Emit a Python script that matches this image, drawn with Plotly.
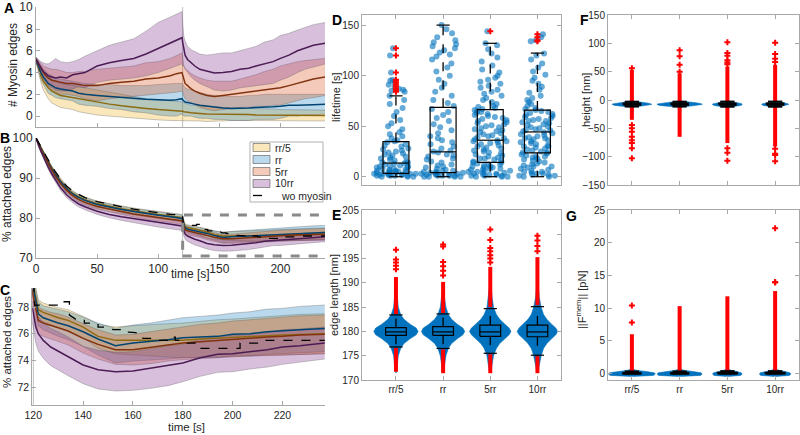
import plotly.graph_objects as go

# ---------------------------------------------------------------- data
SERIES = ['rr/5', 'rr', '5rr', '10rr']

T = [0, 1, 2, 4, 6, 8, 10, 13, 16, 20, 25, 30, 35, 40, 50, 60, 70, 80, 90, 100, 110,
     115, 119.5, 120, 121, 122, 124, 127, 130, 134, 140, 146, 153, 160, 167, 174, 180,
     187, 194, 200, 207, 214, 220, 227, 237]

# panel A: number of myosin edges (mean, upper, lower of band)
A_RR5_MEAN = [5.2,4.8,4.3,3.7,3.2,2.9,2.6, 2.3,2.1,1.9,1.8,1.7,1.55,1.45, 1.3,1.1,0.95,0.8,0.7,0.6,0.55,
              0.5,0.45,0.45,0.4,0.4,0.35,0.3, 0.3,0.25,0.2,0.2,0.2,0.2,0.15, 0.15,0.1,0.1,0.1,0.1,0.05,0.05,
              0.05,0.05,0.05]
A_RR5_UP = [5.4,5.1,4.8,4.3,4.0,3.8,3.6, 3.4,3.2,3.0,2.9,2.8,2.7,2.6, 2.4,2.2,2.0,1.8,1.6,1.5,1.4,
            1.35,1.3,1.3,1.2,1.2,1.1,1.0, 1.0,0.95,0.9,0.85,0.8,0.8,0.75, 0.7,0.7,0.65,0.65,0.6,0.6,0.6,
            0.55,0.55,0.55]
A_RR5_LO = [5.0,4.5,3.8,3.1,2.4,2.0,1.6, 1.2,1.0,0.8,0.7,0.6,0.4,0.3, 0.1,0.0,-0.1,-0.2,-0.3,-0.35,-0.4,
            -0.4,-0.4,-0.4,-0.4,-0.4,-0.4,-0.4, -0.4,-0.45,-0.5,-0.45,-0.45,-0.4,-0.4, -0.4,-0.4,-0.4,-0.4,-0.4,-0.45,-0.45,
            -0.45,-0.45,-0.45]
A_RR_MEAN = [5.2,4.9,4.5,4.0,3.6,3.3,3.0, 2.8,2.6,2.5,2.4,2.3,2.1,2.0, 1.9,1.8,1.7,1.6,1.55,1.5,1.45,
             1.5,1.6,1.5,1.35,1.3,1.25,1.2, 1.1,1.0,0.9,0.8,0.75,0.7,0.7, 0.75,0.8,0.8,0.85,0.9,1.0,1.0,
             1.05,1.05,1.1]
A_RR_UP = [5.4,5.2,4.9,4.6,4.3,4.1,3.9, 3.7,3.5,3.4,3.3,3.2,3.1,3.0, 2.9,2.9,2.8,2.8,2.8,2.9,3.0,
           3.0,3.0,2.9,2.7,2.6,2.5,2.4, 2.3,2.2,2.0,1.9,1.8,1.8,1.8, 1.9,1.9,2.0,2.0,2.0,2.0,2.0,
           2.0,2.0,2.0]
A_RR_LO = [5.0,4.6,4.1,3.4,2.9,2.5,2.1, 1.9,1.7,1.6,1.5,1.4,1.1,1.0, 0.9,0.7,0.6,0.4,0.3,0.1,0.0,
           0.0,0.2,0.1,0.0,0.0,0.0,0.0, -0.1,-0.2,-0.2,-0.3,-0.3,-0.4,-0.4, -0.4,-0.3,-0.3,-0.3,-0.2,0.0,0.0,
           0.1,0.1,0.2]
A_5RR_MEAN = [5.2,5.0,4.7,4.3,4.0,3.7,3.5, 3.3,3.2,3.1,3.0,3.0,2.9,2.8, 2.8,3.0,3.1,3.2,3.4,3.5,3.7,
              3.9,4.0,3.8,3.2,3.0,2.8,2.5, 2.3,2.1,1.9,1.8,1.9,2.0,2.1, 2.2,2.3,2.4,2.5,2.6,2.8,3.0,
              3.2,3.4,3.6]
A_5RR_UP = [5.4,5.3,5.1,4.8,4.6,4.5,4.4, 4.3,4.3,4.2,4.0,4.0,4.1,4.1, 4.3,4.4,4.5,4.6,4.9,5.0,5.3,
            5.6,5.8,5.4,4.6,4.4,4.2,3.9, 3.7,3.5,3.3,3.2,3.2,3.2,3.4, 3.6,3.8,4.1,4.3,4.6,4.8,5.0,
            5.1,5.2,5.3]
A_5RR_LO = [5.0,4.7,4.3,3.8,3.4,3.0,2.7, 2.4,2.2,2.0,2.0,1.9,1.8,1.6, 1.4,1.6,1.7,1.8,1.9,2.0,2.1,
            2.2,2.3,2.2,1.8,1.6,1.4,1.2, 1.0,0.8,0.6,0.5,0.6,0.7,0.8, 0.8,0.9,0.9,1.0,1.0,1.2,1.4,
            1.6,1.7,1.9]
A_10RR_MEAN = [5.2,5.0,4.8,4.4,4.1,3.9,3.7, 3.6,3.5,3.6,3.5,3.8,3.9,4.0, 4.6,4.9,5.1,5.3,5.7,6.2,6.7,
               6.9,7.2,6.8,6.0,5.6,5.2,4.9, 4.6,4.3,4.1,3.95,4.0,4.1,4.3, 4.4,4.6,4.8,5.0,5.3,5.6,6.0,
               6.2,6.5,6.7]
A_10RR_UP = [5.4,5.3,5.2,5.0,4.9,4.8,4.8, 5.0,5.3,5.0,4.9,5.0,5.2,5.5, 6.0,6.5,6.8,7.1,7.8,8.6,9.1,
             9.4,9.6,8.5,7.3,6.9,6.4,6.1, 5.9,5.7,5.6,5.7,5.8,5.8,6.0, 6.2,6.4,6.8,7.0,7.4,7.6,7.9,
             8.1,8.4,8.6]
A_10RR_LO = [5.0,4.7,4.4,3.8,3.4,3.1,2.8, 2.6,2.4,2.3,2.3,2.5,2.7,2.6, 3.1,3.3,3.4,3.5,3.7,4.0,4.4,
             4.6,4.8,4.6,4.6,4.3,4.0,3.6, 3.3,3.0,2.7,2.4,2.3,2.4,2.6, 2.7,2.8,2.9,3.0,3.3,3.6,4.0,
             4.3,4.5,4.8]

# panels B and C: % attached edges (mean and standard deviation)
B_RR5 = [100,99.4,98.8,97.6,96.4,95.2,94.0, 92.5,91.0,89.3,87.5,86.2,85.3,84.6, 83.6,82.9,82.3,81.8,81.3,80.9,80.5,
         80.3,80.1,79.6,78.6,77.8,77.6,77.4, 77.2,77.0,76.5,75.8,75.5,75.5,75.5, 75.5,75.5,75.6,75.65,75.7,75.75,75.85,
         75.9,75.95,76.0]
B_RR = [100,99.3,98.7,97.4,96.2,95.0,93.8, 92.3,90.8,89.1,87.3,86.0,85.1,84.4, 83.4,82.7,82.1,81.6,81.1,80.7,80.3,
        80.1,79.9,79.4,78.3,77.5,77.2,77.0, 76.8,76.6,76.15,75.6,75.1,75.3,75.4, 75.55,75.7,75.75,75.8,75.95,76.0,76.15,
        76.2,76.3,76.4]
B_5RR = [100,99.2,98.5,97.2,95.9,94.7,93.5, 91.9,90.4,88.7,86.9,85.6,84.6,83.9, 82.9,82.2,81.6,81.0,80.5,80.1,79.7,
         79.5,79.3,78.8,77.8,77.0,76.8,76.6, 76.45,76.2,75.65,75.2,74.8,74.8,74.95, 75.15,75.3,75.4,75.5,75.6,75.7,75.75,
         75.8,75.9,75.95]
B_10RR = [100,99.0,98.2,96.7,95.3,94.0,92.7, 91.0,89.4,87.6,85.8,84.5,83.5,82.8, 81.7,80.9,80.3,79.8,79.3,78.8,78.4,
          78.2,78.0,77.6,76.5,76.0,75.5,75.0, 74.7,74.3,73.65,73.3,73.15,73.2,73.4, 73.6,73.8,74.2,74.45,74.5,74.65,74.8,
          75.0,75.1,75.3]
SD_RR5 = [0,0.1,0.2,0.3,0.35,0.4,0.45, 0.5,0.5,0.55,0.6,0.6,0.6,0.65, 0.65,0.7,0.7,0.7,0.75,0.75,0.8,
          0.8,0.8,0.8,0.8,0.75,0.7,0.7, 0.75,0.8,0.8,0.9,1.0,1.1,1.2, 1.25,1.3,1.35,1.4,1.4,1.45,1.45,
          1.5,1.5,1.5]
SD_RR = [0,0.1,0.2,0.3,0.35,0.4,0.45, 0.5,0.55,0.6,0.6,0.65,0.65,0.7, 0.7,0.7,0.75,0.75,0.8,0.8,0.8,
         0.85,0.85,0.85,0.9,0.9,0.9,0.95, 1.0,1.05,1.1,1.2,1.3,1.35,1.4, 1.45,1.5,1.55,1.6,1.6,1.65,1.7,
         1.7,1.75,1.75]
SD_5RR = [0,0.1,0.2,0.3,0.35,0.4,0.45, 0.5,0.55,0.6,0.6,0.65,0.65,0.7, 0.7,0.7,0.75,0.75,0.8,0.8,0.85,
          0.85,0.85,0.9,0.95,1.0,1.0,1.0, 1.05,1.05,1.1,1.1,1.1,1.15,1.2, 1.2,1.25,1.3,1.3,1.35,1.35,1.4,
          1.4,1.45,1.45]
SD_10RR = [0,0.1,0.2,0.3,0.4,0.45,0.5, 0.55,0.6,0.65,0.7,0.7,0.75,0.75, 0.8,0.85,0.9,1.0,1.0,1.05,1.1,
           1.1,1.1,1.15,1.2,1.3,1.35,1.4, 1.45,1.45,1.4,1.45,1.45,1.45,1.5, 1.5,1.4,1.4,1.35,1.35,1.3,1.3,
           1.3,1.25,1.2]

T_WO = [0,1,2,4,6,8,10,13,16,20,25,30,35,40,50,60,70,80,90,100,110,115,119.5,120.2,120.5,131.4,131.4,
        134.5,134.5,137,140.5,140.5,146,146,151,152,155.5,155.5,160,163.5,164,168.5,169,175.5,175.5,
        177,177,181,181.5,186.5,187,203,203,212,212.5,237]
V_WO = [100,99.5,99.0,97.9,96.8,95.6,94.5,93.0,91.5,89.8,88.0,86.7,85.8,85.1,84.1,83.4,82.8,82.2,81.7,81.3,
        80.9,80.8,81.0,80.0,78.15,78.15,78.4,78.4,77.4,77.1,77.1,76.8,76.8,76.5,76.5,76.3,76.3,76.15,76.1,
        76.0,75.65,75.65,75.5,75.5,75.75,75.75,75.5,75.5,75.3,75.3,74.9,74.9,75.3,75.3,75.5,75.5]
ZOOM_T = [120, 240]
ZOOM_V = [70.5, 80.75]

# panel D: lifetime [s]
D_RR5 = [0,0,0,1,1,1,1,2,2,2,2,2,3,3,3,3,4,4,4,5,5,5,6,6,6,7,7,8,8,9,9,10,10,11,11,12,13,13,14,14,15,16,
         17,18,19,20,21,22,23,24,25,26,27,28,30,31,32,34,35,36,38,40,42,44,47,50,53,56,60,64,68,72,76,80,
         84,85,86,87,89,91,93,95,96,103,120,127]
D_RR = [0,0,0,0,1,1,1,1,2,2,2,3,3,3,4,4,4,5,5,6,6,7,8,9,10,11,12,14,15,17,18,20,21,22,24,25,26,28,30,32,
        34,36,38,40,43,46,49,52,55,58,61,64,67,70,73,76,80,84,88,92,96,100,104,108,112,116,119,121,123,125,
        127,129,131,133,135,138,142,146,150]
D_5RR = [0,0,0,1,1,1,2,2,2,3,3,4,4,5,5,6,6,7,7,8,8,9,9,10,10,11,12,12,13,14,14,15,16,17,18,18,19,20,21,22,
         23,24,25,26,27,28,29,30,31,32,33,34,35,35,36,37,38,39,40,41,42,43,44,45,46,47,48,49,50,51,52,53,54,
         55,56,57,58,59,60,61,62,63,64,65,66,67,68,69,70,72,74,76,78,80,82,84,86,88,90,92,94,96,98,100,103,
         106,110,114,118,122,126,130,132,144]
D_10RR = [0,0,1,1,2,2,3,3,4,5,5,6,7,8,9,10,10,11,12,13,14,15,16,17,18,19,20,20,21,22,23,24,24,25,26,27,28,
          29,30,30,31,32,33,34,35,36,37,38,38,39,40,41,42,43,44,45,46,46,47,48,49,50,51,52,53,54,55,55,56,
          57,58,59,60,61,62,63,64,65,66,67,68,70,72,74,76,78,80,83,86,89,92,95,98,101,104,108,112,116,120,
          122,134,135,138,141]
D_Q1 = [3.3, 4.0, 14.1, 23.6]
D_MED = [13.5, 24.6, 36.1, 44.3]
D_Q3 = [34.8, 68.7, 66.4, 65.9]
D_WLO = [0, 0, 0, 0]
D_WHI = [80, 150, 132, 122.3]
D_OUT = [[84, 85, 86, 87, 89, 91, 93, 95, 96, 103, 120, 127], [], [144], [134, 135, 138, 141]]

# panel E: edge length [nm]
E_Q1 = [179.2, 179.2, 179.0, 178.9]
E_MED = [179.9, 179.9, 179.9, 179.9]
E_Q3 = [180.8, 181.0, 181.3, 181.3]
E_WLO = [176.8, 176.5, 175.5, 175.1]
E_WHI = [183.4, 183.6, 184.7, 185.1]
E_OUT_HI = [[183.6, 191.2], [183.8, 190.2], [185.0, 193.3], [185.4, 195.3]]
E_OUT_LO = [[171.7, 176.6], [171.4, 176.3], [171.4, 175.3], [171.4, 174.9]]
E_OUT_SPARSE = [[192.8, 193.5, 194.2, 194.8, 196.8], [191.5, 192.5, 193.4, 194.3, 197.5, 197.9],
                [194.2, 195.0, 195.7, 196.5, 197.2, 198.8, 201.0], [196.5, 197.6, 198.7, 199.7]]
E_VIO_Y = [171.5, 173, 175, 176.5, 177.5, 178.5, 179.3, 180, 180.7, 181.5, 182.5, 183.5, 185, 187, 189]
E_VIO_W = [[0.01, 0.03, 0.05, 0.1, 0.17, 0.3, 0.43, 0.47, 0.43, 0.3, 0.17, 0.1, 0.05, 0.03, 0.01],
           [0.01, 0.03, 0.06, 0.11, 0.18, 0.3, 0.42, 0.46, 0.42, 0.3, 0.18, 0.11, 0.06, 0.03, 0.01],
           [0.01, 0.04, 0.07, 0.13, 0.2, 0.31, 0.4, 0.44, 0.4, 0.31, 0.2, 0.13, 0.07, 0.04, 0.02],
           [0.01, 0.04, 0.08, 0.13, 0.2, 0.3, 0.39, 0.43, 0.39, 0.3, 0.2, 0.13, 0.08, 0.04, 0.02]]

# panel F: height [nm]
F_Q1 = [-8.5, -8.5, -8.6, -8.6]
F_MED = [-7.3, -7.3, -7.3, -7.3]
F_Q3 = [-6.2, -6.2, -6.1, -6.1]
F_WLO = [-11.5, -11.5, -11.8, -11.8]
F_WHI = [-3.0, -3.0, -2.8, -2.8]
F_OUT_HI = [[-3.0, 53], [-3.0, 47], [-2.8, 59], [-2.8, 62]]
F_OUT_LO = [[-35, -11.5], [-65, -11.5], [-76, -11.8], [-82, -11.8]]
F_OUT_SPARSE = [[56, -44, -50, -56, -65, -71, -76, -85, -103], [50, 62, 77, 88],
                [63, 66, 70, 78, 83, 102, -85, -93, -107], [67, 73, 81, 101, -86, -95, -97, -108]]
F_VIO_Y = [-13, -11, -9.5, -8, -7, -6, -4.5, -3, -1.5]
F_VIO_W = [[0.02, 0.2, 0.36, 0.41, 0.41, 0.37, 0.25, 0.1, 0.02],
           [0.02, 0.25, 0.42, 0.47, 0.47, 0.43, 0.3, 0.12, 0.02],
           [0.02, 0.18, 0.28, 0.31, 0.31, 0.28, 0.19, 0.08, 0.02],
           [0.02, 0.15, 0.25, 0.28, 0.28, 0.25, 0.17, 0.07, 0.02]]

# panel G: membrane force [pN]
G_Q1 = [0.0, 0.0, 0.0, 0.0]
G_MED = [0.03, 0.03, 0.03, 0.03]
G_Q3 = [0.1, 0.1, 0.12, 0.12]
G_WLO = [0.0, 0.0, 0.0, 0.0]
G_WHI = [0.3, 0.3, 0.35, 0.35]
G_OUT_HI = [[0.3, 6.0], [0.3, 10.3], [0.35, 11.8], [0.35, 12.6]]
G_OUT_SPARSE = [[7.8, 10.4], [], [], [13.9, 14.0, 22.2]]
G_VIO_Y = [-0.45, -0.3, -0.1, 0.1, 0.3, 0.5, 0.7]
G_VIO_W = [[0.02, 0.45, 0.49, 0.47, 0.3, 0.08, 0.02],
           [0.02, 0.44, 0.47, 0.45, 0.28, 0.08, 0.02],
           [0.02, 0.28, 0.31, 0.29, 0.2, 0.07, 0.02],
           [0.02, 0.30, 0.33, 0.31, 0.21, 0.07, 0.02]]

# ---------------------------------------------------------------- style
W, H = 800, 435
FONT = "Liberation Sans, Arial, Helvetica, sans-serif"
TXT = "#262626"
AXC = "#a8a8a8"
EDGE = "rgba(90,90,90,0.55)"
FILL = ['rgba(237,177,32,0.3)', 'rgba(0,114,189,0.27)', 'rgba(217,83,25,0.3)', 'rgba(126,47,142,0.3)']
LINE = ['#8E6A13', '#004471', '#82320F', '#4C1C55']
BLUE = '#0072BD'
RED = '#ff0000'


def fx(px):
    return px / W


def fy(py):
    return 1 - py / H


fig = go.Figure()


def xr(n):
    return 'x' if n == 1 else f'x{n}'


def yr(n):
    return 'y' if n == 1 else f'y{n}'


# ----------------------------------------------------------- time series
A_MEAN = [A_RR5_MEAN, A_RR_MEAN, A_5RR_MEAN, A_10RR_MEAN]
A_UP = [A_RR5_UP, A_RR_UP, A_5RR_UP, A_10RR_UP]
A_LO = [A_RR5_LO, A_RR_LO, A_5RR_LO, A_10RR_LO]
B_MEAN = [B_RR5, B_RR, B_5RR, B_10RR]
B_SD = [SD_RR5, SD_RR, SD_5RR, SD_10RR]


def add_band(n, t, up, lo, fc):
    fig.add_trace(go.Scatter(x=t, y=up, xaxis=xr(n), yaxis=yr(n), mode='lines',
                             line=dict(color=EDGE, width=0.6), showlegend=False, hoverinfo='skip'))
    fig.add_trace(go.Scatter(x=t, y=lo, xaxis=xr(n), yaxis=yr(n), mode='lines', fill='tonexty',
                             fillcolor=fc, line=dict(color=EDGE, width=0.6), showlegend=False,
                             hoverinfo='skip'))


for i in range(4):
    add_band(1, T, A_UP[i], A_LO[i], FILL[i])
for i in range(4):
    fig.add_trace(go.Scatter(x=T, y=A_MEAN[i], xaxis='x', yaxis='y', mode='lines',
                             line=dict(color=LINE[i], width=1.5), showlegend=False))

for n in (2, 3):
    for i in range(4):
        up = [m + s for m, s in zip(B_MEAN[i], B_SD[i])]
        lo = [m - s for m, s in zip(B_MEAN[i], B_SD[i])]
        add_band(n, T, up, lo, FILL[i])
    for i in range(4):
        fig.add_trace(go.Scatter(x=T, y=B_MEAN[i], xaxis=xr(n), yaxis=yr(n), mode='lines',
                                 line=dict(color=LINE[i], width=1.5), showlegend=False))
    fig.add_trace(go.Scatter(x=T_WO, y=V_WO, xaxis=xr(n), yaxis=yr(n), mode='lines',
                             line=dict(color='black', width=1.3, dash='dash'), showlegend=False))

# ----------------------------------------------------------- box helpers
CATS = [1, 2, 3, 4]


def add_violin(n, c, ys, ws):
    xs = [c + w for w in ws] + [c - w for w in ws[::-1]]
    yy = list(ys) + list(ys[::-1])
    fig.add_trace(go.Scatter(x=xs, y=yy, xaxis=xr(n), yaxis=yr(n), mode='lines', fill='toself',
                             fillcolor=BLUE, line=dict(width=0.8, color='rgba(0,114,189,0.7)'),
                             showlegend=False, hoverinfo='skip'))


def add_box(n, c, q1, med, q3, wlo, whi, bw, cw, lw=1.2):
    h = bw / 2
    k = cw / 2
    fig.add_trace(go.Scatter(x=[c, c, None, c, c], y=[q3, whi, None, q1, wlo], xaxis=xr(n), yaxis=yr(n),
                             mode='lines', line=dict(color='black', width=1.3, dash='dash'),
                             showlegend=False, hoverinfo='skip'))
    fig.add_trace(go.Scatter(x=[c - k, c + k, None, c - k, c + k], y=[whi, whi, None, wlo, wlo],
                             xaxis=xr(n), yaxis=yr(n), mode='lines', line=dict(color='black', width=lw),
                             showlegend=False, hoverinfo='skip'))
    fig.add_trace(go.Scatter(x=[c - h, c + h, c + h, c - h, c - h, None, c - h, c + h],
                             y=[q1, q1, q3, q3, q1, None, med, med], xaxis=xr(n), yaxis=yr(n),
                             mode='lines', line=dict(color='black', width=lw),
                             showlegend=False, hoverinfo='skip'))


def add_red_range(n, c, rng):
    fig.add_trace(go.Scatter(x=[c, c], y=rng, xaxis=xr(n), yaxis=yr(n), mode='lines',
                             line=dict(color=RED, width=4), showlegend=False, hoverinfo='skip'))


def add_red_pts(n, c, vals, size=5):
    if not vals:
        return
    fig.add_trace(go.Scatter(x=[c] * len(vals), y=vals, xaxis=xr(n), yaxis=yr(n), mode='markers',
                             marker=dict(symbol='cross', size=size, color=RED),
                             showlegend=False, hoverinfo='skip'))


# panel D
D_VALS = [D_RR5, D_RR, D_5RR, D_10RR]
for i, c in enumerate(CATS):
    fig.add_trace(go.Box(x=[c] * len(D_VALS[i]), y=D_VALS[i], xaxis='x4', yaxis='y4', boxpoints='all',
                         jitter=1, pointpos=0, width=0.95, fillcolor='rgba(0,0,0,0)',
                         line=dict(width=0, color='rgba(0,0,0,0)'), whiskerwidth=0,
                         marker=dict(color='rgba(0,114,189,0.6)', size=6), showlegend=False,
                         hoverinfo='skip'))
for i, c in enumerate(CATS):
    add_box(4, c, D_Q1[i], D_MED[i], D_Q3[i], D_WLO[i], D_WHI[i], 0.55, 0.28)
    add_red_pts(4, c, D_OUT[i], 5)

# panel E
for i, c in enumerate(CATS):
    add_violin(5, c, E_VIO_Y, E_VIO_W[i])
for i, c in enumerate(CATS):
    add_red_range(5, c, E_OUT_HI[i])
    add_red_range(5, c, E_OUT_LO[i])
    add_red_pts(5, c, E_OUT_SPARSE[i], 5)
    add_box(5, c, E_Q1[i], E_MED[i], E_Q3[i], E_WLO[i], E_WHI[i], 0.44, 0.28)

# panel F
for i, c in enumerate(CATS):
    add_violin(6, c, F_VIO_Y, F_VIO_W[i])
for i, c in enumerate(CATS):
    add_red_range(6, c, F_OUT_HI[i])
    add_red_range(6, c, F_OUT_LO[i])
    add_red_pts(6, c, F_OUT_SPARSE[i], 5)
    add_box(6, c, F_Q1[i], F_MED[i], F_Q3[i], F_WLO[i], F_WHI[i], 0.35, 0.3, lw=2)

# panel G
for i, c in enumerate(CATS):
    add_violin(7, c, G_VIO_Y, G_VIO_W[i])
for i, c in enumerate(CATS):
    add_red_range(7, c, G_OUT_HI[i])
    add_red_pts(7, c, G_OUT_SPARSE[i], 5)
    add_box(7, c, G_Q1[i], G_MED[i], G_Q3[i], G_WLO[i], G_WHI[i], 0.4, 0.3, lw=2)

# ----------------------------------------------------------- axes
PANELS = [
    # n, x px, y px, xrange, yrange, xticks, xlabels, yticks, box, fontsize
    (1, (36, 325), (7, 127), [0, 236.5], [-1, 10.02], [0, 50, 100, 150, 200], None, [0, 2, 4, 6, 8, 10], False, 12),
    (2, (36, 325), (138, 258), [0, 236.5], [70, 100], [0, 50, 100, 150, 200], ['0', '50', '100', '150', '200'],
     [70, 80, 90, 100], False, 12),
    (3, (32.3, 325), (288, 405), [119.6, 237.1], [70.65, 79.43], [120, 140, 160, 180, 200, 220],
     ['120', '140', '160', '180', '200', '220'], [72, 74, 76, 78], False, 10.5),
    (4, (362, 561), (15, 185), [0.28, 4.5], [-8.2, 160], CATS, None, [0, 50, 100, 150], True, 10),
    (5, (362, 561), (210, 380), [0.28, 4.5], [170, 205], CATS, SERIES,
     [170, 175, 180, 185, 190, 195, 200, 205], True, 10),
    (6, (608, 799), (15, 185), [0.5, 4.5], [-150, 150], CATS, None, [-150, -100, -50, 0, 50, 100, 150], True, 10),
    (7, (608, 799), (210, 380), [0.5, 4.5], [-1, 25], CATS, SERIES, [0, 5, 10, 15, 20, 25], True, 10),
]

layout_axes = {}
for n, xp, yp, xrg, yrg, xt, xl, yt, box, fs in PANELS:
    common = dict(showgrid=False, zeroline=False, showline=True, linecolor=AXC, linewidth=1,
                  ticks='inside', ticklen=4, tickcolor=AXC, tickfont=dict(size=fs, color=TXT, family=FONT),
                  mirror='ticks' if box else False, fixedrange=True, automargin=False,
                  ticklabeloverflow='allow')
    xa = dict(common, domain=[fx(xp[0]), fx(xp[1])], range=xrg, anchor=yr(n), tickvals=xt)
    if xl is None:
        xa['showticklabels'] = False
    else:
        xa['ticktext'] = xl
    ya = dict(common, domain=[fy(yp[1]), fy(yp[0])], range=yrg, anchor=xr(n), tickvals=yt)
    layout_axes['xaxis' if n == 1 else f'xaxis{n}'] = xa
    layout_axes['yaxis' if n == 1 else f'yaxis{n}'] = ya

# ----------------------------------------------------------- shapes / annotations
shapes = []
for n in (1, 2, 3):
    shapes.append(dict(type='line', xref=xr(n), yref=f'{yr(n)} domain', x0=120, x1=120, y0=0, y1=1,
                       line=dict(color='#bdbdbd', width=1), layer='below'))
shapes.append(dict(type='rect', xref='x2', yref='y2', x0=ZOOM_T[0], x1=ZOOM_T[1], y0=ZOOM_V[0], y1=ZOOM_V[1],
                   line=dict(color='#8a8a8a', width=3, dash='dash')))

# manual legend (panel B)
leg_x0, leg_x1, leg_y0, leg_y1 = 250, 323, 142, 202
shapes.append(dict(type='rect', xref='paper', yref='paper', x0=fx(leg_x0), x1=fx(leg_x1), y0=fy(leg_y1),
                   y1=fy(leg_y0), line=dict(color='#b0b0b0', width=1), fillcolor='white'))
annotations = []
for k, lab in enumerate(SERIES + ['wo myosin']):
    cy = 147.5 + 12 * k
    if k < 4:
        shapes.append(dict(type='rect', xref='paper', yref='paper', x0=fx(253), x1=fx(270),
                           y0=fy(cy + 4), y1=fy(cy - 4), fillcolor=FILL[k],
                           line=dict(color='#555555', width=0.6)))
        tx = 272.5
    else:
        shapes.append(dict(type='line', xref='paper', yref='paper', x0=fx(253), x1=fx(269),
                           y0=fy(cy), y1=fy(cy), line=dict(color='black', width=1.3, dash='dash')))
        tx = 279
    annotations.append(dict(xref='paper', yref='paper', x=fx(tx), y=fy(cy), text=lab, showarrow=False,
                            xanchor='left', yanchor='middle', font=dict(size=10.5, color=TXT, family=FONT)))

TITLES = [
    ('# Myosin edges', 13, 65, -90, 12),
    ('% attached edges', 7, 194, -90, 12),
    ('time [s]', 190, 274, 0, 12),
    ('% attached edges', 7, 342, -90, 11.5),
    ('time [s]', 186, 427, 0, 11.5),
    ('lifetime [s]', 336, 97, -90, 11),
    ('edge length [nm]', 334, 295, -90, 11),
    ('height [nm]', 586, 100, -90, 11),
    ('||F<sup>mem</sup>|| [pN]', 581, 300, -90, 11),
]
for text, x, y, ang, fs in TITLES:
    annotations.append(dict(xref='paper', yref='paper', x=fx(x), y=fy(y), text=text, showarrow=False,
                            textangle=ang, xanchor='center', yanchor='middle',
                            font=dict(size=fs, color=TXT, family=FONT)))

LETTERS = [('A', 9, 8), ('B', 5, 138), ('C', 5, 290), ('D', 337, 20), ('E', 336, 215), ('F', 584, 20),
           ('G', 571, 216)]
for text, x, y in LETTERS:
    annotations.append(dict(xref='paper', yref='paper', x=fx(x), y=fy(y), text=f'<b>{text}</b>',
                            showarrow=False, xanchor='center', yanchor='middle',
                            font=dict(size=14, color='black', family=FONT)))

fig.update_layout(
    width=W, height=H, margin=dict(l=0, r=0, t=0, b=0, autoexpand=False), paper_bgcolor='white',
    plot_bgcolor='white', font=dict(family=FONT, color=TXT), showlegend=False, boxmode='overlay',
    shapes=shapes, annotations=annotations, **layout_axes)

fig.write_html("out.html", config={'displayModeBar': False, 'staticPlot': True},
               post_script="document.body.style.margin='0px';document.body.style.padding='0px';"
                           "document.documentElement.style.overflow='hidden';")
